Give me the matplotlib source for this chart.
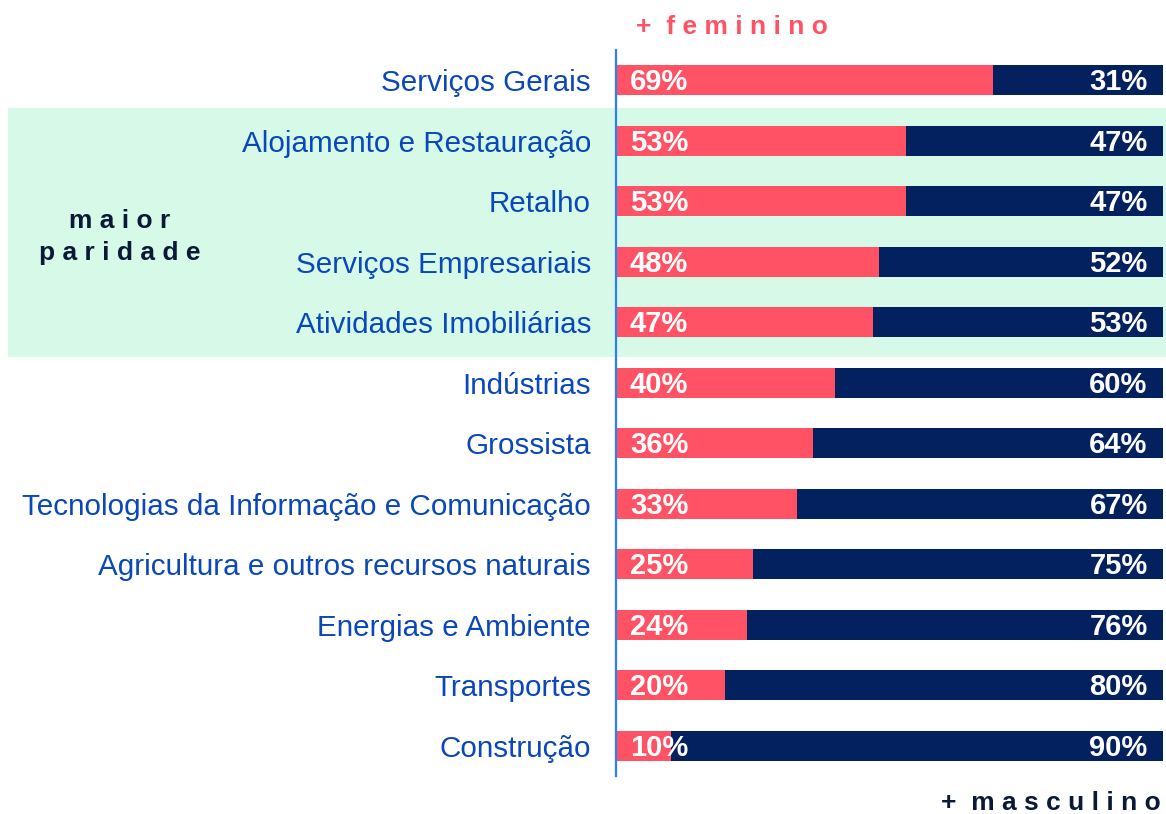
import matplotlib.pyplot as plt
from matplotlib import font_manager
from matplotlib.patches import Rectangle
from matplotlib.transforms import blended_transform_factory

# data
categories = [
    'Serviços Gerais',
    'Alojamento e Restauração',
    'Retalho',
    'Serviços Empresariais',
    'Atividades Imobiliárias',
    'Indústrias',
    'Grossista',
    'Tecnologias da Informação e Comunicação',
    'Agricultura e outros recursos naturais',
    'Energias e Ambiente',
    'Transportes',
    'Construção',
]
feminino = [69, 53, 53, 48, 47, 40, 36, 33, 25, 24, 20, 10]
masculino = [31, 47, 47, 52, 53, 60, 64, 67, 75, 76, 80, 90]
paridade_rows = [1, 2, 3, 4]

names = {f.name for f in font_manager.fontManager.ttflist}
plt.rcParams['font.family'] = ['Liberation Sans' if 'Liberation Sans' in names else 'DejaVu Sans']

col_fem = '#FF5264'
col_masc = '#03205F'
col_label = '#0A47B8'
col_band = '#D6FAE7'
col_dark = '#0B1836'

W, H = 1166, 814
fig = plt.figure(figsize=(W / 100, H / 100), dpi=100)
ax = fig.add_axes([616 / W, 1 - 776 / H, 547 / W, 726 / H])
ax.set_facecolor('none')

y = list(range(len(categories)))
ax.barh(y, feminino, height=0.5, color=col_fem, zorder=2)
ax.barh(y, masculino, left=feminino, height=0.5, color=col_masc, zorder=2)

for i in y:
    ax.annotate(f'{feminino[i]}%', (0, i), xytext=(10, -1.5), textcoords='offset points',
                ha='left', va='center', color='white', fontsize=21, fontweight='bold', zorder=3)
    ax.annotate(f'{masculino[i]}%', (100, i), xytext=(-11, -1.5), textcoords='offset points',
                ha='right', va='center', color='white', fontsize=21, fontweight='bold', zorder=3)

# highlight band for "maior paridade"
trans = blended_transform_factory(fig.transFigure, ax.transData)
y0 = min(paridade_rows) - 0.54
y1 = max(paridade_rows) + 0.58
ax.add_patch(Rectangle((8 / W, y0), 1 - 8 / W, y1 - y0, transform=trans,
                       facecolor=col_band, edgecolor='none', clip_on=False, zorder=0))

ax.set_xlim(0, 100)
ax.set_ylim(len(categories) - 0.5, -0.5)
ax.set_yticks(y)
ax.set_yticklabels(categories, fontsize=21.3, color=col_label)
ax.tick_params(axis='y', length=0, pad=18)
ax.set_xticks([])
for side in ['top', 'right', 'bottom']:
    ax.spines[side].set_visible(False)
ax.spines['left'].set_color('#2D7FF9')
ax.spines['left'].set_linewidth(1.6)

fig.text(120 / W, 1 - 237 / H, 'm a i o r\np a r i d a d e', ha='center', va='center',
         fontsize=19, fontweight='bold', color=col_dark, linespacing=1.4)
fig.text(636 / W, 1 - 27 / H, '+  f e m i n i n o', ha='left', va='center',
         fontsize=19, fontweight='bold', color=col_fem)
fig.text(1161 / W, 1 - 803 / H, '+  m a s c u l i n o', ha='right', va='center',
         fontsize=19, fontweight='bold', color=col_dark)

fig.savefig('out.png', dpi=100)
